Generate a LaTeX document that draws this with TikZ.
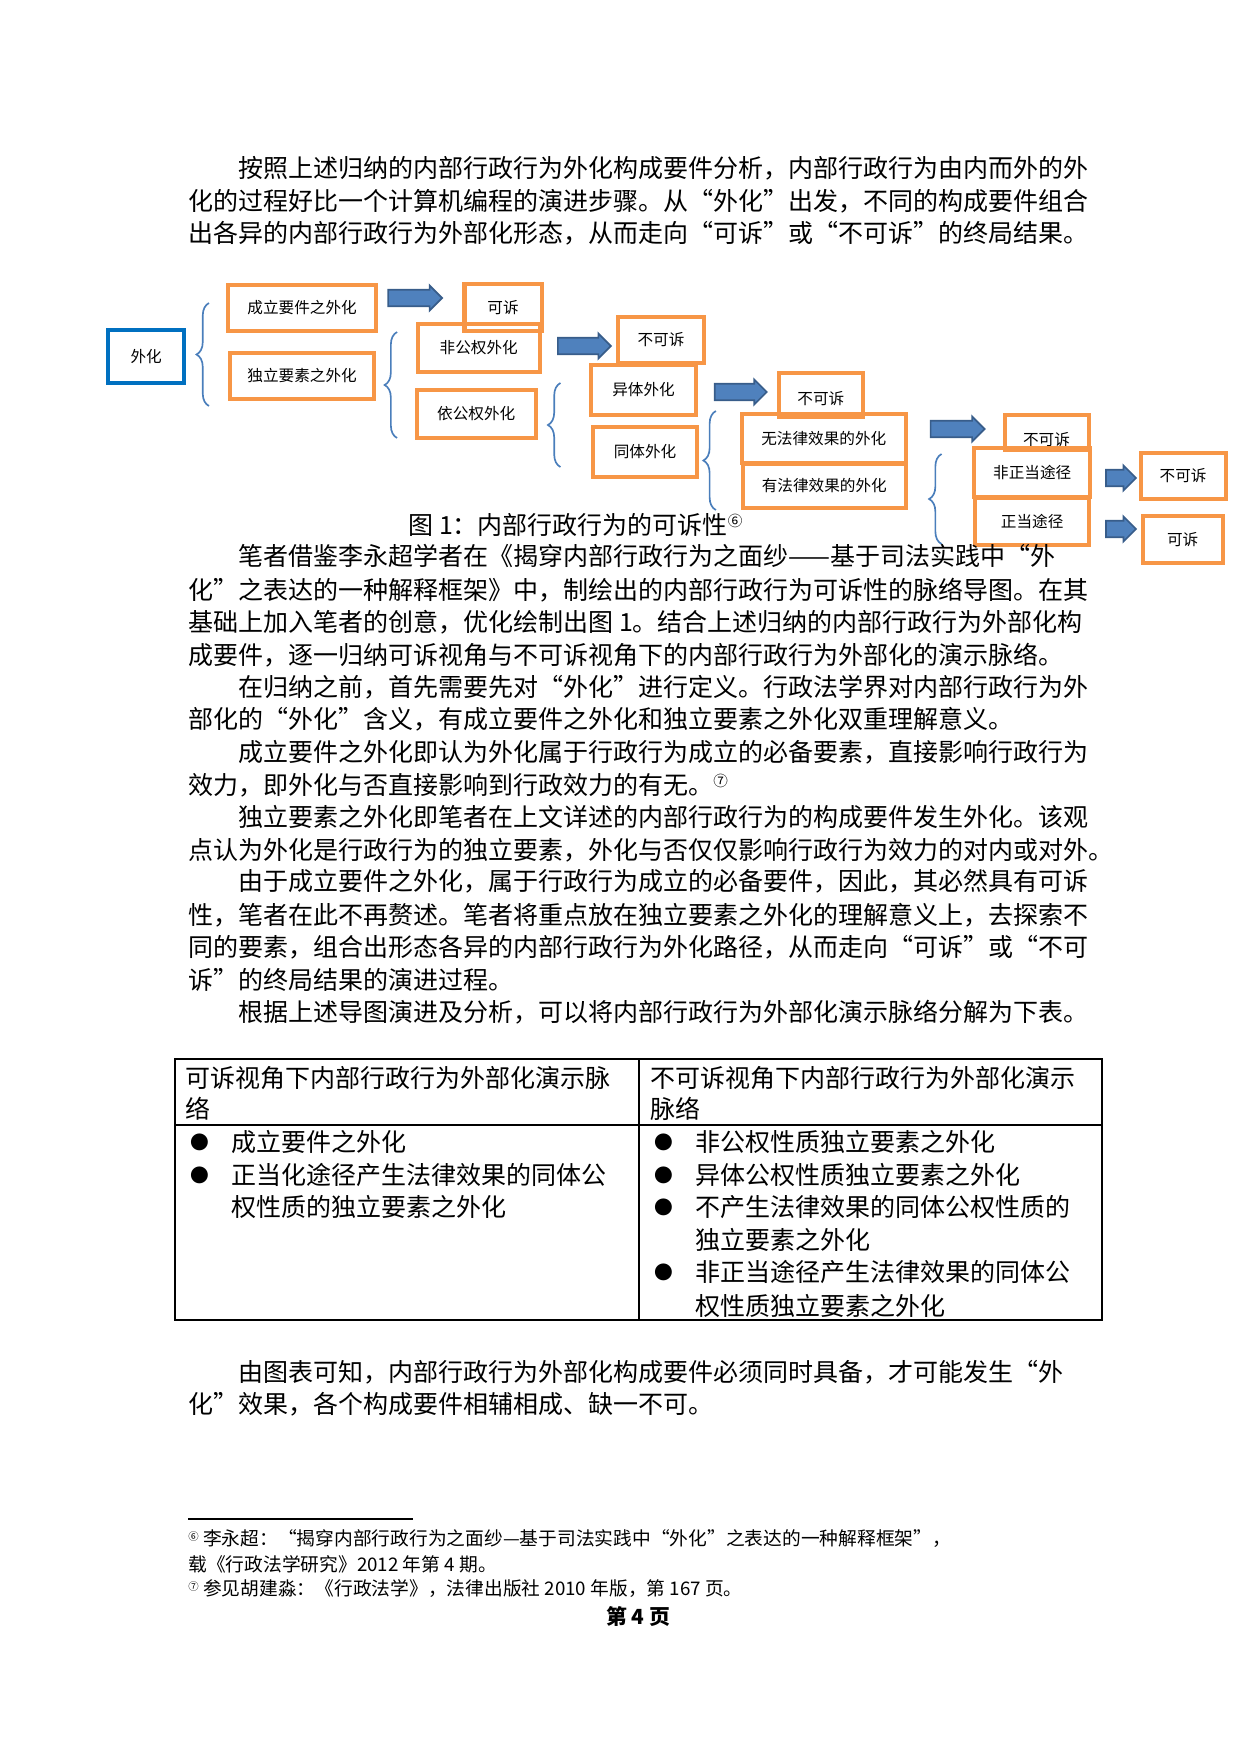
\documentclass[tikz,border=0pt]{standalone}
\usepackage{fontspec}
\setmainfont{Noto Sans CJK SC}
\usetikzlibrary{shapes.arrows,decorations.pathreplacing}
\definecolor{orng}{HTML}{F79646}
\definecolor{blu}{HTML}{0070C0}
\definecolor{arr}{HTML}{4F81BD}
\definecolor{arrd}{HTML}{385D8A}
\definecolor{brc}{HTML}{4A7EBB}
\newcommand\mybox[7]{\node[#1,minimum width={(#4-#2)*0.48pt*0.99},minimum height={(#5-#3)*0.48pt}] (#6) at ({(#2+#4)/2},{(#3+#5)/2}) {#7};}
\newcommand\myarr[4]{\node[barr,minimum height={#3*0.48pt}] (#1) at (#2) {};}
\tikzset{
 ob/.style={draw=orng,line width=2pt,inner sep=0pt,font=\fontsize{7.5}{9}\selectfont},
 bb/.style={draw=blu,line width=2pt,inner sep=0pt,font=\fontsize{7.5}{9}\selectfont},
 barr/.style={single arrow,fill=arr,draw=arrd,line width=0.8pt,minimum width=12pt,single arrow head extend=1.5pt,inner sep=2.5pt},
 brace/.style={draw=brc,line width=0.8pt,decorate,decoration={brace,amplitude=6pt}},
 body/.style={anchor=west,inner sep=0pt,font=\fontsize{12}{14}\selectfont},
 foot/.style={anchor=west,inner sep=0pt,font=\fontsize{9}{11}\selectfont},
 bul/.style={anchor=west,inner sep=0pt,font=\fontsize{9}{11}\selectfont},
}
\begin{document}
\begin{tikzpicture}[x=0.48pt,y=-0.48pt]
\useasboundingbox (0,0) rectangle (1240,1754);
% paragraph 1
\node[body] (t1) at (238,168) {按照上述归纳的内部行政行为外化构成要件分析，内部行政行为由内而外的外};
\node[body] (t2) at (188,201) {化的过程好比一个计算机编程的演进步骤。从“外化”出发，不同的构成要件组合};
\node[body] (t3) at (188,233) {出各异的内部行政行为外部化形态，从而走向“可诉”或“不可诉”的终局结果。};
% diagram
\begin{scope}[shift={(1.1,0)},xscale=0.99]
\mybox{bb}{108}{330}{185}{383}{wh}{外化}
\mybox{ob}{229}{285}{379}{331}{cl}{成立要件之外化}
\mybox{ob}{231}{353}{377}{399}{dl}{独立要素之外化}
\mybox{ob}{468}{284}{546}{331}{k1}{可诉}
\mybox{ob}{421}{324}{544}{372}{fg}{非公权外化}
\mybox{ob}{420}{390}{540}{438}{yg}{依公权外化}
\mybox{ob}{623}{317}{710}{363}{b2}{不可诉}
\mybox{ob}{596}{365}{702}{415}{yt}{异体外化}
\mybox{ob}{598}{427}{703}{477}{tt}{同体外化}
\mybox{ob}{786}{373}{871}{417}{b3}{}
\node[font=\fontsize{7.5}{9}\selectfont] at (828,399) {不可诉};
\mybox{ob}{748}{414}{914}{463}{wf}{无法律效果的外化}
\mybox{ob}{749}{464}{914}{508}{yf}{有法律效果的外化}
\mybox{ob}{1014}{415}{1099}{450}{b4}{}
\node[font=\fontsize{7.5}{9}\selectfont] at (1056,440) {不可诉};
\mybox{ob}{983}{448}{1100}{497}{fz}{非正当途径}
\mybox{ob}{984}{498}{1099}{545}{zd}{正当途径}
\mybox{ob}{1151}{453}{1237}{499}{b5}{不可诉}
\mybox{ob}{1153}{516}{1234}{563}{k6}{可诉}
\myarr{a1}{414,298}{54}{}
\myarr{a2}{585,346}{53}{}
\myarr{a3}{743,392}{52}{}
\myarr{a4}{962,429}{54}{}
\myarr{a5}{1127,478}{30}{}
\myarr{a6}{1127,529}{30}{}
\draw[brace] (210,406) -- (210,303);
\draw[brace] (400,438) -- (400,332);
\draw[brace] (565,467) -- (565,383);
\draw[brace] (722,510) -- (722,411);
\draw[brace] (950,544) -- (950,454);
\end{scope}
\node[body] (cap) at (408,525) {图 1：内部行政行为的可诉性\raisebox{0.6ex}{\fontsize{7}{8}\selectfont ⑥}};
% paragraphs
\node[body] at (238,556) {笔者借鉴李永超学者在《揭穿内部行政行为之面纱——基于司法实践中“外};
\node[body] at (188,590) {化”之表达的一种解释框架》中，制绘出的内部行政行为可诉性的脉络导图。在其};
\node[body] at (188,622) {基础上加入笔者的创意，优化绘制出图 1。结合上述归纳的内部行政行为外部化构};
\node[body] at (188,655) {成要件，逐一归纳可诉视角与不可诉视角下的内部行政行为外部化的演示脉络。};
\node[body] at (238,687) {在归纳之前，首先需要先对“外化”进行定义。行政法学界对内部行政行为外};
\node[body] at (188,719) {部化的“外化”含义，有成立要件之外化和独立要素之外化双重理解意义。};
\node[body] at (238,752) {成立要件之外化即认为外化属于行政行为成立的必备要素，直接影响行政行为};
\node[body] at (188,785) {效力，即外化与否直接影响到行政效力的有无。\raisebox{0.6ex}{\fontsize{7}{8}\selectfont ⑦}};
\node[body] at (238,817) {独立要素之外化即笔者在上文详述的内部行政行为的构成要件发生外化。该观};
\node[body] at (188,850) {点认为外化是行政行为的独立要素，外化与否仅仅影响行政行为效力的对内或对外。};
\node[body] at (238,881) {由于成立要件之外化，属于行政行为成立的必备要件，因此，其必然具有可诉};
\node[body] at (188,915) {性，笔者在此不再赘述。笔者将重点放在独立要素之外化的理解意义上，去探索不};
\node[body] at (188,947) {同的要素，组合出形态各异的内部行政行为外化路径，从而走向“可诉”或“不可};
\node[body] at (188,980) {诉”的终局结果的演进过程。};
\node[body] at (238,1012) {根据上述导图演进及分析，可以将内部行政行为外部化演示脉络分解为下表。};
% table
\draw[line width=0.8pt] (175,1059) rectangle (1102,1320);
\draw[line width=0.8pt] (639,1059) -- (639,1320);
\draw[line width=0.8pt] (175,1125) -- (1102,1125);
\node[body] at (185,1078) {可诉视角下内部行政行为外部化演示脉};
\node[body] at (185,1109) {络};
\node[body] at (650,1078) {不可诉视角下内部行政行为外部化演示};
\node[body] at (650,1109) {脉络};
\foreach \y in {1142,1175} \node[bul] at (190,\y) {●};
\node[body] at (231,1142) {成立要件之外化};
\node[body] at (231,1175) {正当化途径产生法律效果的同体公};
\node[body] at (231,1207) {权性质的独立要素之外化};
\foreach \y in {1142,1175,1207,1272} \node[bul] at (654,\y) {●};
\node[body] at (695,1142) {非公权性质独立要素之外化};
\node[body] at (695,1175) {异体公权性质独立要素之外化};
\node[body] at (695,1207) {不产生法律效果的同体公权性质的};
\node[body] at (695,1240) {独立要素之外化};
\node[body] at (695,1272) {非正当途径产生法律效果的同体公};
\node[body] at (695,1306) {权性质独立要素之外化};
\node[body] at (238,1372) {由图表可知，内部行政行为外部化构成要件必须同时具备，才可能发生“外};
\node[body] at (188,1404) {化”效果，各个构成要件相辅相成、缺一不可。};
% footnotes
\draw[line width=0.8pt] (188,1519) -- (413,1519);
\node[foot] at (188,1539) {\raisebox{0.5ex}{\fontsize{5}{6}\selectfont ⑥} 李永超：“揭穿内部行政行为之面纱—基于司法实践中“外化”之表达的一种解释框架”，};
\node[foot] at (188,1564) {载《行政法学研究》2012 年第 4 期。};
\node[foot] at (188,1589) {\raisebox{0.5ex}{\fontsize{5}{6}\selectfont ⑦} 参见胡建淼：《行政法学》，法律出版社 2010 年版，第 167 页。};
\node[inner sep=0pt,font=\fontsize{10}{12}\selectfont\bfseries] at (638,1616) {第 4 页};
\end{tikzpicture}
\end{document}
